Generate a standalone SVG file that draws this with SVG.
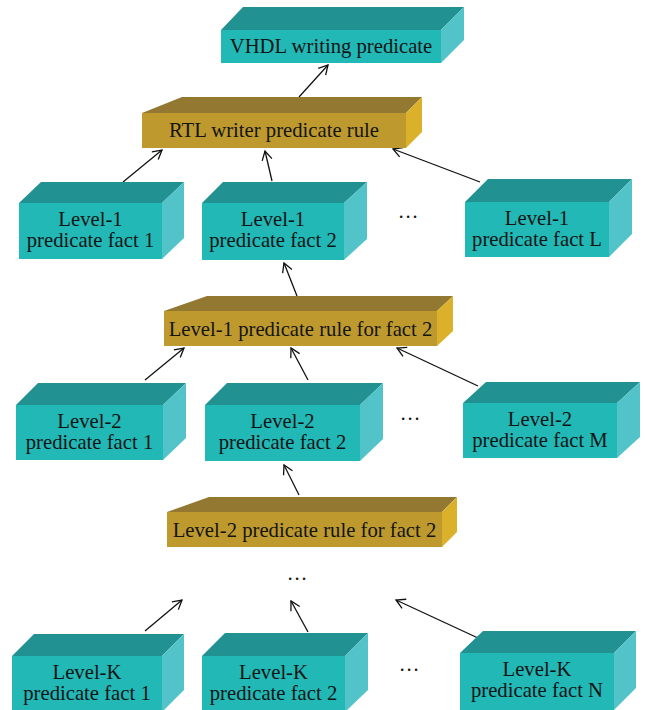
<svg xmlns="http://www.w3.org/2000/svg" width="645" height="710" viewBox="0 0 645 710">
  <defs>
    <style>
      .ft { fill: #21b8b6; }
      .tp { fill: #219291; }
      .rt { fill: #52c4c9; }
      .gft { fill: #be9a2e; }
      .gtp { fill: #937832; }
      .grt { fill: #dbb02b; }
      text { font-family: "Liberation Serif", "Times New Roman", serif; font-size: 20.7px; fill: #141414; text-anchor: middle; }
      .edge { stroke: #111; stroke-width: 1.3; fill: none; marker-end: url(#arrow); }
    </style>
    <marker id="arrow" markerUnits="userSpaceOnUse" markerWidth="14" markerHeight="14" refX="10" refY="6" orient="auto">
      <path d="M1,1 L10,6 L1,11" fill="none" stroke="#111" stroke-width="1.3"/>
    </marker>
  </defs>

  <!-- connectors -->
  <g id="connectors">
    <line class="edge" x1="299" y1="97" x2="328" y2="65"/>
    <line class="edge" x1="123" y1="182" x2="162" y2="150"/>
    <line class="edge" x1="272" y1="181" x2="265" y2="151"/>
    <line class="edge" x1="480" y1="182" x2="393" y2="149"/>
    <line class="edge" x1="297" y1="296" x2="284" y2="263"/>
    <line class="edge" x1="145" y1="380" x2="184" y2="348"/>
    <line class="edge" x1="308" y1="380" x2="291" y2="348"/>
    <line class="edge" x1="478" y1="386" x2="397" y2="348"/>
    <line class="edge" x1="299" y1="495" x2="284" y2="465"/>
    <line class="edge" x1="145" y1="631" x2="182" y2="600"/>
    <line class="edge" x1="308" y1="632" x2="291" y2="601"/>
    <line class="edge" x1="478" y1="638" x2="396" y2="600"/>
  </g>

  <!-- top level -->
  <g id="vhdl">
    <polygon class="tp" points="221,30 243,7 464,7 441,30"/>
    <polygon class="rt" points="441,30 464,7 464,40 441,63"/>
    <rect class="ft" x="221" y="30" width="220" height="33"/>
    <text x="331" y="53">VHDL writing predicate</text>
  </g>

  <g id="rtl-rule">
    <polygon class="gtp" points="142,113 182,97 422,97 406,113"/>
    <polygon class="grt" points="406,113 422,97 422,132 406,148"/>
    <rect class="gft" x="142" y="113" width="264" height="35"/>
    <text x="274" y="137">RTL writer predicate rule</text>
  </g>

  <!-- level 1 facts -->
  <g id="l1-fact1">
    <polygon class="tp" points="19,203 41,182 184,182 162,203"/>
    <polygon class="rt" points="162,203 184,182 184,238 162,259"/>
    <rect class="ft" x="19" y="203" width="143" height="56"/>
    <text x="90.5" y="226">Level-1</text>
    <text x="90.5" y="247">predicate fact 1</text>
  </g>
  <g id="l1-fact2">
    <polygon class="tp" points="202,203 223,182 367,182 344,203"/>
    <polygon class="rt" points="344,203 367,182 367,239 344,260"/>
    <rect class="ft" x="202" y="203" width="142" height="57"/>
    <text x="273" y="226">Level-1</text>
    <text x="273" y="247">predicate fact 2</text>
  </g>
  <text x="408" y="218">…</text>
  <g id="l1-factL">
    <polygon class="tp" points="465,202 488,179 632,179 609,202"/>
    <polygon class="rt" points="609,202 632,179 632,234 609,257"/>
    <rect class="ft" x="465" y="202" width="144" height="55"/>
    <text x="537" y="225">Level-1</text>
    <text x="537" y="246">predicate fact L</text>
  </g>

  <g id="l1-rule">
    <polygon class="gtp" points="164,311 207,296 453,296 437,311"/>
    <polygon class="grt" points="437,311 453,296 453,331 437,346"/>
    <rect class="gft" x="164" y="311" width="273" height="35"/>
    <text x="300.5" y="336">Level-1 predicate rule for fact 2</text>
  </g>

  <!-- level 2 facts -->
  <g id="l2-fact1">
    <polygon class="tp" points="16,405 38,383 186,383 163,405"/>
    <polygon class="rt" points="163,405 186,383 186,438 163,460"/>
    <rect class="ft" x="16" y="405" width="147" height="55"/>
    <text x="89.5" y="428">Level-2</text>
    <text x="89.5" y="449">predicate fact 1</text>
  </g>
  <g id="l2-fact2">
    <polygon class="tp" points="205,405 227,383 383,383 360,405"/>
    <polygon class="rt" points="360,405 383,383 383,439 360,461"/>
    <rect class="ft" x="205" y="405" width="155" height="56"/>
    <text x="282.5" y="428">Level-2</text>
    <text x="282.5" y="449">predicate fact 2</text>
  </g>
  <text x="410" y="420">…</text>
  <g id="l2-factM">
    <polygon class="tp" points="463,403 486,382 640,382 617,403"/>
    <polygon class="rt" points="617,403 640,382 640,437 617,458"/>
    <rect class="ft" x="463" y="403" width="154" height="55"/>
    <text x="540" y="426">Level-2</text>
    <text x="540" y="447">predicate fact M</text>
  </g>

  <g id="l2-rule">
    <polygon class="gtp" points="167,512 209,497 457,497 442,512"/>
    <polygon class="grt" points="442,512 457,497 457,532 442,547"/>
    <rect class="gft" x="167" y="512" width="275" height="35"/>
    <text x="304.5" y="537">Level-2 predicate rule for fact 2</text>
  </g>
  <text x="297" y="580">…</text>

  <!-- level K facts -->
  <g id="lk-fact1">
    <polygon class="tp" points="12,656 34,634 184,634 162,656"/>
    <polygon class="rt" points="162,656 184,634 184,690 162,712"/>
    <rect class="ft" x="12" y="656" width="150" height="56"/>
    <text x="87" y="679">Level-K</text>
    <text x="87" y="700">predicate fact 1</text>
  </g>
  <g id="lk-fact2">
    <polygon class="tp" points="202,656 225,633 368,633 345,656"/>
    <polygon class="rt" points="345,656 368,633 368,690 345,712"/>
    <rect class="ft" x="202" y="656" width="143" height="56"/>
    <text x="273.5" y="679">Level-K</text>
    <text x="273.5" y="700">predicate fact 2</text>
  </g>
  <text x="409" y="671">…</text>
  <g id="lk-factN">
    <polygon class="tp" points="460,653 483,631 636,631 614,653"/>
    <polygon class="rt" points="614,653 636,631 636,688 614,710"/>
    <rect class="ft" x="460" y="653" width="154" height="57"/>
    <text x="537" y="676">Level-K</text>
    <text x="537" y="697">predicate fact N</text>
  </g>
</svg>
